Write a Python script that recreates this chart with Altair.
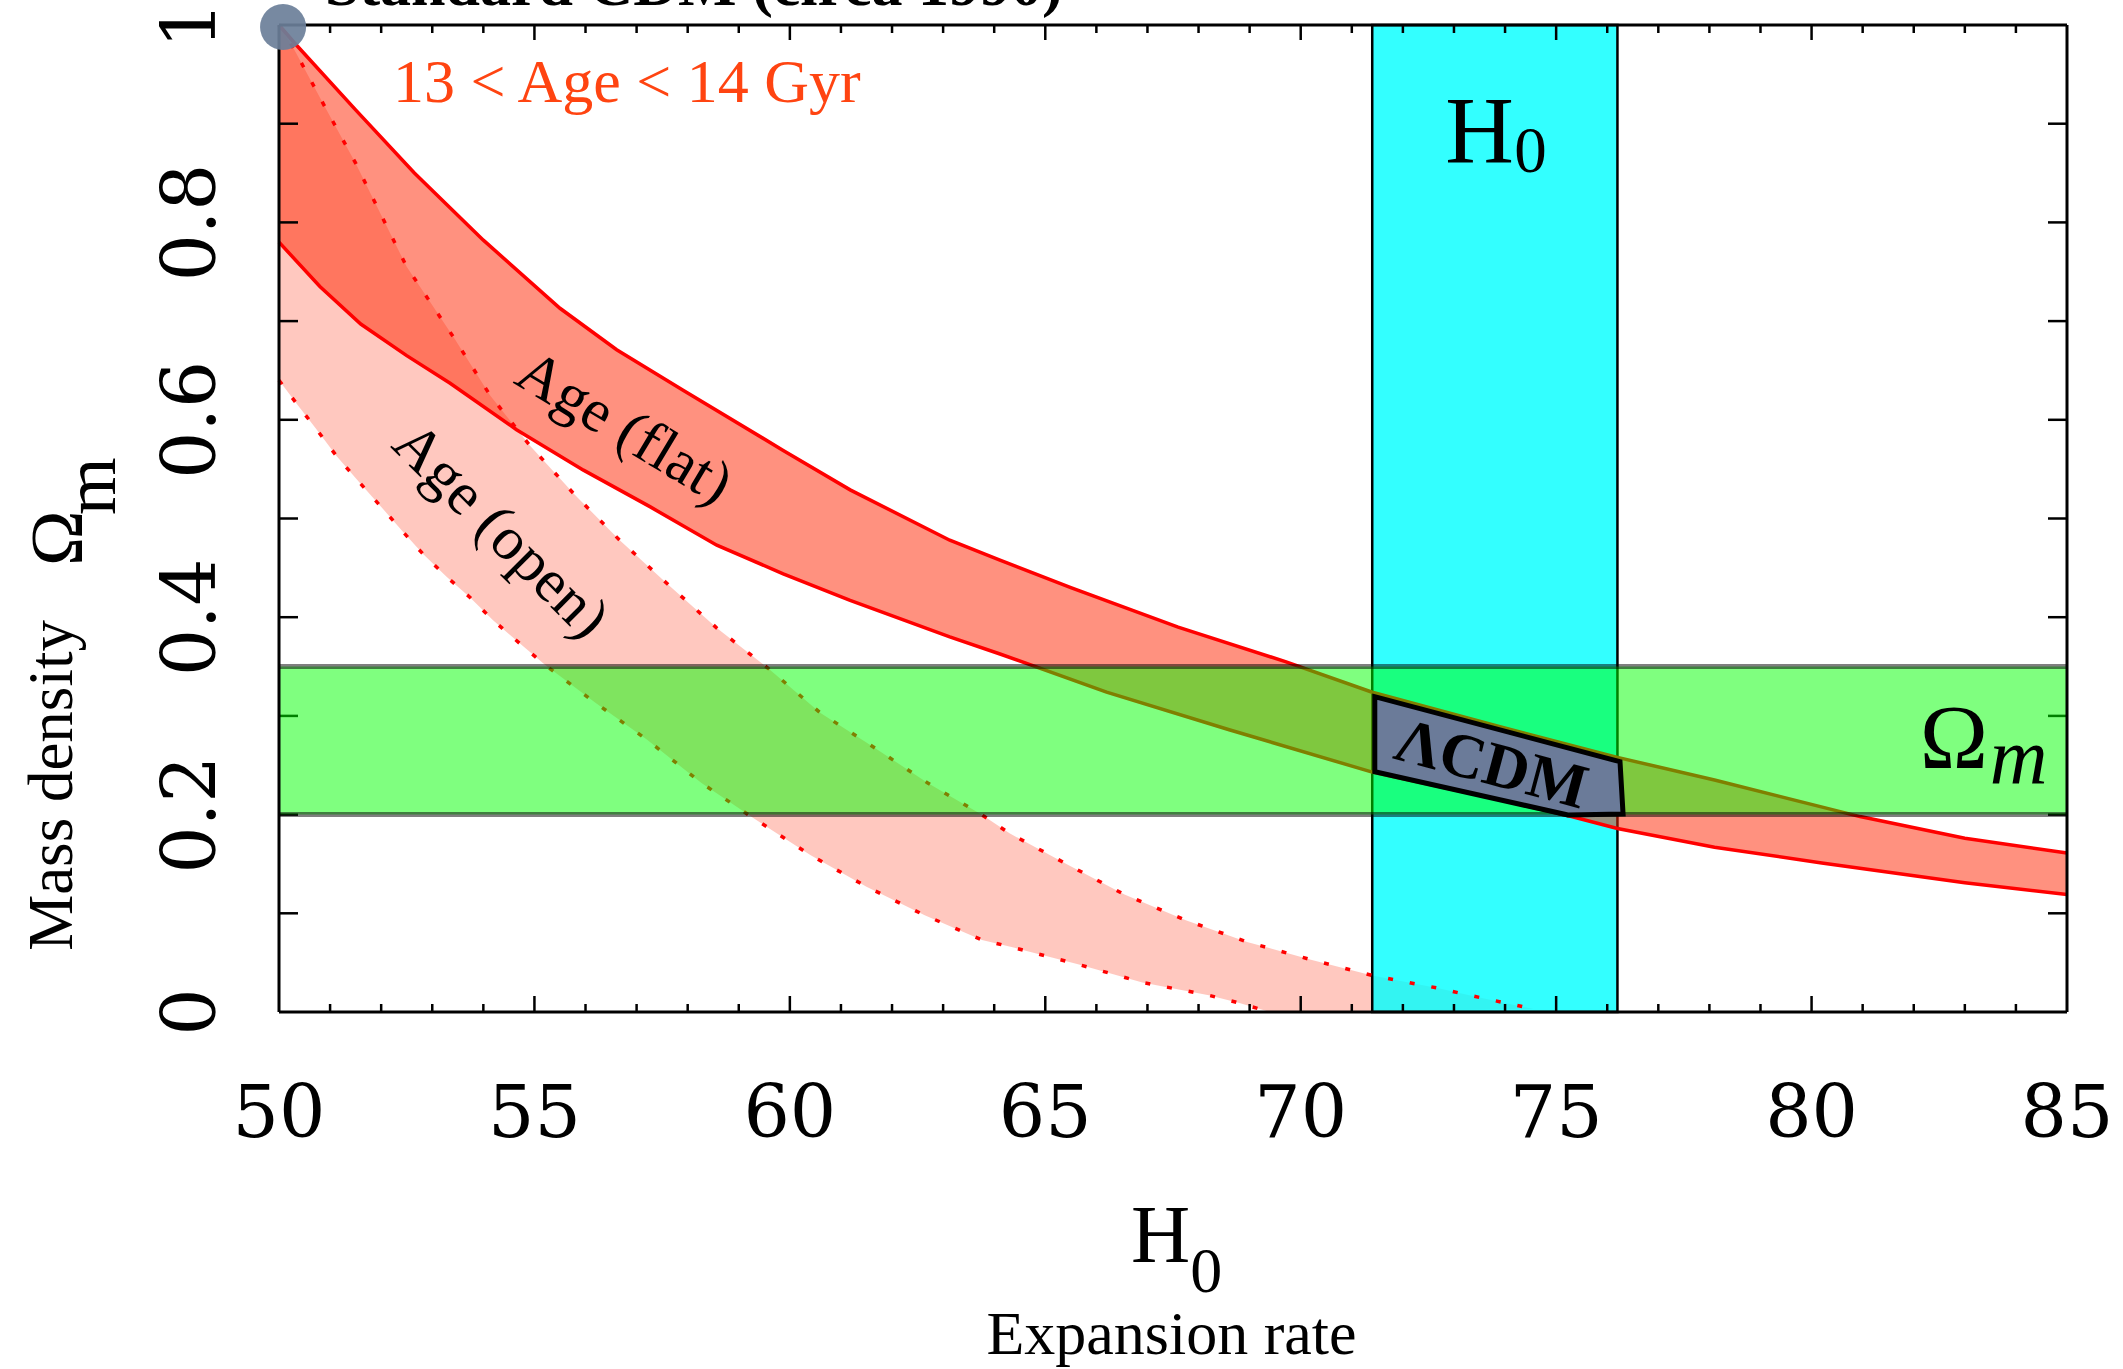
import altair as alt
import pandas as pd

# ---------------- data ----------------
# Age (flat) band, solid red boundaries
FLAT_UPPER_H0 = [50.0, 50.3, 51.5, 52.65, 54.0, 55.5, 56.61, 57.91, 59.87, 61.18, 63.13, 64.1,
                 65.5, 67.6, 69.7, 71.4, 73.9, 76.2, 78.1, 80.95, 83.0, 85.0]
FLAT_UPPER_OM = [1.0, 0.982, 0.914, 0.85, 0.782, 0.713, 0.671, 0.630, 0.569, 0.529, 0.478, 0.458,
                 0.43, 0.39, 0.355, 0.324, 0.289, 0.258, 0.235, 0.198, 0.176, 0.161]
FLAT_LOWER_H0 = [50.0, 50.8, 51.6, 52.5, 53.35, 54.65, 55.96, 57.26, 58.57, 59.87, 61.18, 63.13,
                 64.1, 66.2, 68.6, 71.4, 73.9, 75.3, 76.2, 78.1, 80.2, 83.0, 85.0]
FLAT_LOWER_OM = [0.78, 0.735, 0.697, 0.665, 0.637, 0.590, 0.549, 0.512, 0.473, 0.444, 0.417, 0.380,
                 0.363, 0.324, 0.286, 0.243, 0.215, 0.198, 0.186, 0.167, 0.151, 0.131, 0.119]
# Age (open) band, dotted red boundaries
OPEN_UPPER_H0 = [50.0, 50.3, 50.9, 51.5, 52.5, 53.45, 54.13, 54.91, 55.79, 56.67, 57.62, 58.57,
                 59.58, 60.6, 61.65, 62.7, 63.75, 64.3, 65.45, 66.55, 67.75, 68.95, 70.2, 71.4,
                 72.7, 73.3, 74.56]
OPEN_UPPER_OM = [1.0, 0.975, 0.917, 0.86, 0.755, 0.681, 0.625, 0.574, 0.524, 0.478, 0.433, 0.389,
                 0.348, 0.303, 0.268, 0.232, 0.20, 0.181, 0.149, 0.119, 0.093, 0.071, 0.053, 0.037,
                 0.024, 0.017, 0.003]
OPEN_LOWER_H0 = [50.0, 50.38, 50.74, 51.13, 51.55, 51.98, 52.40, 52.82, 53.28, 53.74, 54.19, 54.7,
                 55.2, 56.2, 57.2, 58.27, 59.27, 60.4, 61.5, 62.64, 63.76, 64.4, 65.66, 66.9, 68.2,
                 68.8, 69.4]
OPEN_LOWER_OM = [0.64, 0.614, 0.590, 0.563, 0.538, 0.513, 0.488, 0.464, 0.441, 0.420, 0.397, 0.374,
                 0.352, 0.313, 0.276, 0.232, 0.197, 0.159, 0.127, 0.098, 0.073, 0.065, 0.048, 0.030,
                 0.017, 0.009, 0.0]
# Measurement bands
H0_BAND = [71.4, 76.2]
OMEGA_BAND = [0.20, 0.35]
# LambdaCDM concordance region
LCDM_H0 = [71.45, 71.45, 75.23, 76.31, 76.25]
LCDM_OM = [0.3195, 0.2435, 0.1996, 0.2006, 0.2536]
# Standard CDM point
SCDM_H0 = [50.08]
SCDM_OM = [0.998]
# Axes
X_RANGE = [50, 85]
Y_RANGE = [0, 1]
X_LABELS = [50, 55, 60, 65, 70, 75, 80, 85]
X_MAJOR_TICKS = [55, 60, 65, 70, 75, 80]
X_MINOR_TICKS = [51, 52, 53, 54, 56, 57, 58, 59, 61, 62, 63, 64, 66, 67, 68, 69, 71, 72, 73, 74,
                 76, 77, 78, 79, 81, 82, 83, 84]
Y_LABELS = [0, 0.2, 0.4, 0.6, 0.8, 1.0]
Y_LABEL_TEXT = ["0", "0.2", "0.4", "0.6", "0.8", "1"]
Y_TICKS = [0.1, 0.2, 0.3, 0.4, 0.5, 0.6, 0.7, 0.8, 0.9]

# ---------------- chart ----------------
SERIF = "Liberation Serif"
NUMFONT = "DejaVu Serif"
RED_FILL = "#FF2400"

xs = alt.Scale(domain=X_RANGE, nice=False, zero=False)
ys = alt.Scale(domain=Y_RANGE, nice=False, zero=False)


def X(field="x"):
    return alt.X(f"{field}:Q", scale=xs, axis=None)


def Y(field="y"):
    return alt.Y(f"{field}:Q", scale=ys, axis=None)


def XD(v):
    return alt.XDatum(v, scale=xs, axis=None, type="quantitative")


def YD(v):
    return alt.YDatum(v, scale=ys, axis=None, type="quantitative")


def poly(hs, oms):
    return pd.DataFrame({"x": hs, "y": oms, "i": list(range(len(hs)))})


def line_df(hs, oms):
    return pd.DataFrame({"x": hs, "y": oms})


def txt(x, y, s, size, angle=None, align="left", baseline="alphabetic", font=SERIF,
        weight="normal", style="normal", color="black"):
    df = pd.DataFrame({"x": [x], "y": [y], "t": [s]})
    kw = dict(align=align, baseline=baseline, font=font, fontSize=size,
              fontWeight=weight, fontStyle=style, color=color)
    if angle is not None:
        kw["angle"] = angle
    return alt.Chart(df).mark_text(**kw).encode(x=X(), y=Y(), text="t:N")


# tick labels (drawn as text through the scales)
x_labels = alt.Chart(pd.DataFrame({"x": X_LABELS, "t": [str(v) for v in X_LABELS]})).mark_text(
    font=NUMFONT, fontSize=73, align="center", baseline="alphabetic", color="black"
).encode(x=X(), y=YD(-0.1266), text="t:N")
y_labels = alt.Chart(pd.DataFrame({"y": Y_LABELS, "t": Y_LABEL_TEXT})).mark_text(
    font=NUMFONT, fontSize=74, align="center", baseline="alphabetic", angle=270, color="black"
).encode(y=Y(), x=XD(48.747), text="t:N")

open_fill = alt.Chart(poly(OPEN_UPPER_H0 + OPEN_LOWER_H0[::-1],
                           OPEN_UPPER_OM + OPEN_LOWER_OM[::-1])).mark_line(
    filled=True, color=RED_FILL, fillOpacity=0.25, interpolate="linear-closed", strokeWidth=0
).encode(x=X(), y=Y(), order="i:Q")

cyan = alt.Chart(pd.DataFrame({"lo": [H0_BAND[0]], "hi": [H0_BAND[1]]})).mark_rect(
    fill="#00FFFF", fillOpacity=0.8, stroke="black", strokeWidth=2.5
).encode(x=X("lo"), x2="hi:Q", y=YD(0), y2=alt.datum(1))

flat_fill = alt.Chart(poly(FLAT_UPPER_H0 + FLAT_LOWER_H0[::-1],
                           FLAT_UPPER_OM + FLAT_LOWER_OM[::-1])).mark_line(
    filled=True, color=RED_FILL, fillOpacity=0.5, interpolate="linear-closed", strokeWidth=0
).encode(x=X(), y=Y(), order="i:Q")

flat_up = alt.Chart(line_df(FLAT_UPPER_H0, FLAT_UPPER_OM)).mark_line(
    color="#FF0000", strokeWidth=3.5).encode(x=X(), y=Y())
flat_lo = alt.Chart(line_df(FLAT_LOWER_H0, FLAT_LOWER_OM)).mark_line(
    color="#FF0000", strokeWidth=3.5).encode(x=X(), y=Y())
open_up = alt.Chart(line_df(OPEN_UPPER_H0, OPEN_UPPER_OM)).mark_line(
    color="#FF0000", strokeWidth=3.5, strokeDash=[5, 17]).encode(x=X(), y=Y())
open_lo = alt.Chart(line_df(OPEN_LOWER_H0, OPEN_LOWER_OM)).mark_line(
    color="#FF0000", strokeWidth=3.5, strokeDash=[5, 17]).encode(x=X(), y=Y())

# inward ticks
tick_kw = dict(color="black", strokeWidth=2.5)
xb_major = alt.Chart(pd.DataFrame({"x": X_MAJOR_TICKS})).mark_rule(y2Offset=-16, **tick_kw).encode(
    x=X(), y=YD(0), y2=alt.datum(0))
xb_minor = alt.Chart(pd.DataFrame({"x": X_MINOR_TICKS})).mark_rule(y2Offset=-8, **tick_kw).encode(
    x=X(), y=YD(0), y2=alt.datum(0))
xt_major = alt.Chart(pd.DataFrame({"x": X_MAJOR_TICKS})).mark_rule(y2Offset=15, **tick_kw).encode(
    x=X(), y=YD(1), y2=alt.datum(1))
xt_minor = alt.Chart(pd.DataFrame({"x": X_MINOR_TICKS})).mark_rule(y2Offset=8, **tick_kw).encode(
    x=X(), y=YD(1), y2=alt.datum(1))
yl_ticks = alt.Chart(pd.DataFrame({"y": Y_TICKS})).mark_rule(x2Offset=19, **tick_kw).encode(
    y=Y(), x=XD(50), x2=alt.datum(50))
yr_ticks = alt.Chart(pd.DataFrame({"y": Y_TICKS})).mark_rule(x2Offset=-19, **tick_kw).encode(
    y=Y(), x=XD(85), x2=alt.datum(85))

green = alt.Chart(pd.DataFrame({"lo": [OMEGA_BAND[0]], "hi": [OMEGA_BAND[1]]})).mark_rect(
    fill="#00FF00", fillOpacity=0.5
).encode(y=Y("lo"), y2="hi:Q", x=XD(50), x2=alt.datum(85))
green_edges = alt.Chart(pd.DataFrame({"y": OMEGA_BAND})).mark_rule(
    color="black", opacity=0.5, strokeWidth=5
).encode(y=Y(), x=XD(50), x2=alt.datum(85))

# frame
frame_kw = dict(color="black", strokeWidth=3)
frame_l = alt.Chart(pd.DataFrame({"x": [X_RANGE[0]]})).mark_rule(**frame_kw).encode(
    x=X(), y=YD(0), y2=alt.datum(1))
frame_r = alt.Chart(pd.DataFrame({"x": [X_RANGE[1]]})).mark_rule(**frame_kw).encode(
    x=X(), y=YD(0), y2=alt.datum(1))
frame_b = alt.Chart(pd.DataFrame({"y": [Y_RANGE[0]]})).mark_rule(**frame_kw).encode(
    y=Y(), x=XD(50), x2=alt.datum(85))
frame_t = alt.Chart(pd.DataFrame({"y": [Y_RANGE[1]]})).mark_rule(**frame_kw).encode(
    y=Y(), x=XD(50), x2=alt.datum(85))

lcdm = alt.Chart(poly(LCDM_H0, LCDM_OM)).mark_line(
    filled=True, fill="#6B7B99", stroke="black", strokeWidth=5, strokeJoin="miter",
    interpolate="linear-closed"
).encode(x=X(), y=Y(), order="i:Q")

scdm = alt.Chart(line_df(SCDM_H0, SCDM_OM)).mark_circle(
    size=2124, color="#6B7F99", opacity=0.92).encode(x=X(), y=Y())

texts = [
    txt(73.73, 0.250, "ΛCDM", 63, angle=15, align="center", baseline="middle", weight="bold"),
    txt(72.83, 0.860, "H", 95),
    txt(74.18, 0.851, "0", 65),
    txt(82.12, 0.2472, "Ω", 92),
    txt(83.49, 0.232, "m", 80, style="italic"),
    txt(56.75, 0.591, "Age (flat)", 61, angle=31, align="center", baseline="middle"),
    txt(54.33, 0.487, "Age (open)", 61, angle=45, align="center", baseline="middle"),
    txt(52.23, 0.922, "13 < Age < 14 Gyr", 62, color="#FF4411"),
    txt(50.9, 1.0203, "Standard CDM (circa 1990)", 62, weight="bold"),
    # x-axis title
    txt(66.68, -0.2533, "H", 82),
    txt(67.84, -0.2837, "0", 64),
    txt(67.47, -0.3465, "Expansion rate", 62, align="center"),
    # y-axis title
    txt(45.95, 0.2295, "Mass density", 63, angle=270, align="center"),
    txt(46.14, 0.4519, "Ω", 75, angle=270),
    txt(46.79, 0.5035, "m", 74, angle=270),
]

chart = alt.layer(
    open_fill, cyan, flat_fill, flat_up, flat_lo, open_up, open_lo,
    xb_major, xb_minor, xt_major, xt_minor, yl_ticks, yr_ticks,
    green, green_edges, frame_l, frame_r, frame_b, frame_t, lcdm, scdm,
    x_labels, y_labels, *texts
).properties(
    width=1788, height=987,
    autosize=alt.AutoSizeParams(type="none"),
    padding={"left": 279, "top": 25, "right": 56, "bottom": 357},
    background="white",
).configure_view(stroke=None)

chart.save("out.html", embed_options={"renderer": "svg", "actions": False})
